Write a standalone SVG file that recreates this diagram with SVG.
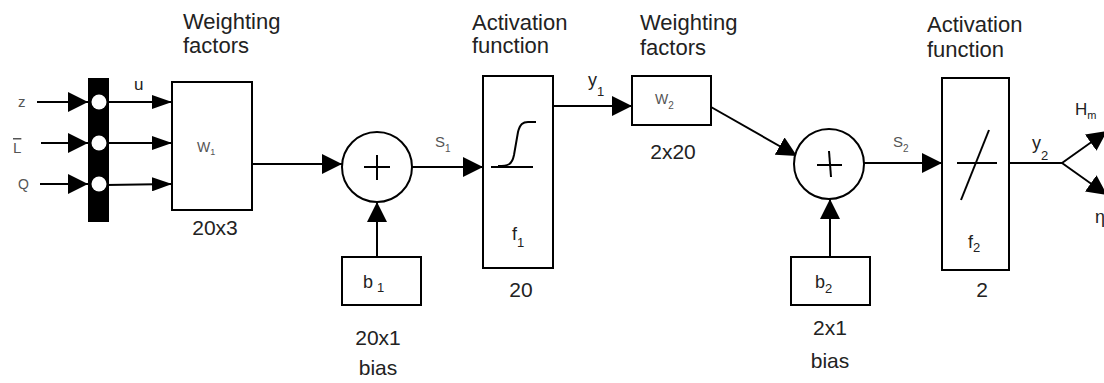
<svg xmlns="http://www.w3.org/2000/svg" width="1104" height="383" viewBox="0 0 1104 383">
<style>
.box{fill:#fff;stroke:#000;stroke-width:2}
.ln{fill:none;stroke:#000;stroke-width:2}
.t{font-family:"Liberation Sans",Arial,sans-serif;fill:#222}
.big{font-size:22px}
.dim{font-size:21px;text-anchor:middle}
.sm{font-family:"Liberation Sans",Arial,sans-serif;fill:#555}
</style>
<defs>
<marker id="ah" markerUnits="userSpaceOnUse" markerWidth="20" markerHeight="20" viewBox="0 0 20 20" refX="20" refY="10" orient="auto"><path d="M0,0 L20,10 L0,20 z" fill="#000"/></marker>
<marker id="ahs" markerUnits="userSpaceOnUse" markerWidth="20" markerHeight="14" viewBox="0 0 20 14" refX="20" refY="7" orient="auto"><path d="M0,0 L20,7 L0,14 z" fill="#000"/></marker>
</defs>
<rect width="1104" height="383" fill="#fff"/>

<g id="labels">
<text class="t big" x="183" y="29">Weighting</text>
<text class="t big" x="183" y="53">factors</text>
<text class="t big" x="472" y="30">Activation</text>
<text class="t big" x="472" y="53">function</text>
<text class="t big" x="640" y="30">Weighting</text>
<text class="t big" x="640" y="55">factors</text>
<text class="t big" x="927" y="32">Activation</text>
<text class="t big" x="927" y="57">function</text>
<text class="sm" x="18" y="107" font-size="15">z</text>
<text class="sm" x="13" y="153" font-size="15" style="text-decoration:overline" fill="#222">L</text>
<text class="sm" x="18" y="189" font-size="14">Q</text>
<text class="t" x="134" y="90" font-size="17">u</text>
<text class="sm" x="435" y="147" font-size="15">S<tspan font-size="10" dy="5">1</tspan></text>
<text class="t" x="588" y="86" font-size="18">y<tspan font-size="13" dy="10">1</tspan></text>
<text class="sm" x="893" y="147" font-size="15">S<tspan font-size="10" dy="5">2</tspan></text>
<text class="t" x="1032" y="149" font-size="18">y<tspan font-size="13" dy="11">2</tspan></text>
<text class="t" x="1075" y="115" font-size="17">H<tspan font-size="11" dy="4">m</tspan></text>
<text class="t" x="1095" y="223" font-size="18">η</text>
</g>

<g id="connectors">
<line class="ln" x1="37" y1="102" x2="88" y2="102" marker-end="url(#ah)"/>
<line class="ln" x1="41" y1="143" x2="88" y2="143" marker-end="url(#ah)"/>
<line class="ln" x1="40" y1="184" x2="88" y2="184" marker-end="url(#ah)"/>
<line class="ln" x1="106" y1="102" x2="172" y2="102" marker-end="url(#ahs)"/>
<line class="ln" x1="106" y1="143" x2="172" y2="143" marker-end="url(#ahs)"/>
<line class="ln" x1="106" y1="185" x2="172" y2="184" marker-end="url(#ahs)"/>
<line class="ln" x1="252" y1="164" x2="342" y2="164" marker-end="url(#ah)"/>
<line class="ln" x1="377" y1="257" x2="377" y2="202" marker-end="url(#ah)"/>
<line class="ln" x1="412" y1="167" x2="483" y2="167" marker-end="url(#ah)"/>
<line class="ln" x1="553" y1="106" x2="632" y2="106" marker-end="url(#ah)"/>
<line class="ln" x1="711" y1="107" x2="797" y2="156" marker-end="url(#ah)"/>
<line class="ln" x1="830" y1="257" x2="830" y2="199" marker-end="url(#ah)"/>
<line class="ln" x1="864" y1="163" x2="942" y2="163" marker-end="url(#ah)"/>
<line class="ln" x1="1009" y1="163" x2="1062" y2="163"/>
<line class="ln" x1="1062" y1="163" x2="1107" y2="131" marker-end="url(#ah)"/>
<line class="ln" x1="1062" y1="163" x2="1107" y2="195" marker-end="url(#ah)"/>
</g>

<g id="mux">
<rect x="88" y="78" width="21" height="144" fill="#000"/>
<circle cx="99" cy="102" r="7.5" fill="#fff"/>
<circle cx="99" cy="143" r="7.5" fill="#fff"/>
<circle cx="99" cy="184" r="7.5" fill="#fff"/>
</g>

<g id="W1">
<rect class="box" x="172" y="82" width="80" height="128"/>
<text class="sm" x="197" y="152" font-size="14">W<tspan font-size="9" dy="3">1</tspan></text>
<text class="t dim" x="215" y="235">20x3</text>
</g>

<g id="sum1">
<circle class="box" cx="377" cy="167" r="35"/>
<line class="ln" x1="364" y1="167" x2="390" y2="167"/>
<line class="ln" x1="377" y1="155" x2="377" y2="180"/>
</g>

<g id="b1">
<rect class="box" x="342" y="257" width="79" height="48"/>
<text class="t" x="363" y="288" font-size="18">b<tspan font-size="13" dx="4" dy="4">1</tspan></text>
<text class="t dim" x="378" y="345">20x1</text>
<text class="t dim" x="378" y="375">bias</text>
</g>

<g id="f1">
<rect class="box" x="483" y="76" width="70" height="192"/>
<line class="ln" x1="491" y1="167" x2="533" y2="167"/>
<path class="ln" d="M498,166 C508,166 512,165 514,155 L518,132 C520,124 523,122 528,122 L536,122"/>
<text class="t" x="512" y="240" font-size="18">f<tspan font-size="13" dy="7">1</tspan></text>
<text class="t dim" x="521" y="297">20</text>
</g>

<g id="W2">
<rect class="box" x="632" y="76" width="79" height="49"/>
<text class="sm" x="655" y="104" font-size="14">W<tspan font-size="10" dy="5">2</tspan></text>
<text class="t dim" x="673" y="159">2x20</text>
</g>

<g id="sum2">
<circle class="box" cx="829" cy="164" r="35"/>
<line class="ln" x1="817" y1="165" x2="842" y2="165"/>
<line class="ln" x1="829" y1="151" x2="831" y2="177"/>
</g>

<g id="b2">
<rect class="box" x="791" y="257" width="79" height="48"/>
<text class="t" x="815" y="288" font-size="18">b<tspan font-size="13" dy="5">2</tspan></text>
<text class="t dim" x="830" y="335">2x1</text>
<text class="t dim" x="830" y="368">bias</text>
</g>

<g id="f2">
<rect class="box" x="942" y="78" width="67" height="192"/>
<line class="ln" x1="957" y1="163" x2="997" y2="163"/>
<line class="ln" x1="961" y1="200" x2="989" y2="130"/>
<text class="t" x="968" y="248" font-size="18">f<tspan font-size="13" dy="4">2</tspan></text>
<text class="t dim" x="982" y="297">2</text>
</g>
</svg>
